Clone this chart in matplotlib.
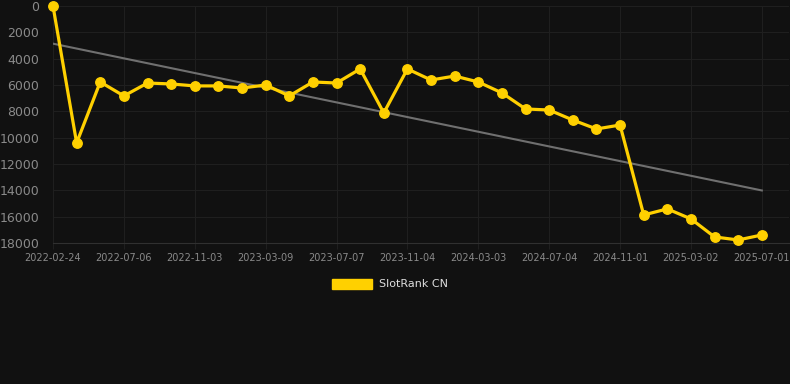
import matplotlib
matplotlib.use("Agg")
import matplotlib.pyplot as plt
from matplotlib.patches import Patch
import numpy as np

# rank values (lower on screen = worse rank)
ranks = [0, 10400, 5770, 6830, 5850, 5920, 6070, 6070, 6230, 6000,
         6830, 5770, 5850, 4780, 8120, 4780, 5620, 5320, 5770, 6600,
         7820, 7900, 8660, 9340, 9040, 15870, 15410, 16170, 17540, 17770,
         17390]
tick_labels = ["2022-02-24", "2022-07-06", "2022-11-03", "2023-03-09",
               "2023-07-07", "2023-11-04", "2024-03-03", "2024-07-04",
               "2024-11-01", "2025-03-02", "2025-07-01"]
series_name = "SlotRank CN"

BG = "#111111"
YELLOW = "#ffd000"
GRID = "#1f1f1f"
TXT = "#8a8a8a"

x = np.arange(len(ranks))
y = np.array(ranks)

fig = plt.figure(figsize=(7.9, 3.84), dpi=100, facecolor=BG)
ax = fig.add_axes([53/790, (384-243)/384, (789-53)/790, (243-6)/384])
ax.set_facecolor(BG)

# trend line (least squares fit)
k, b = np.polyfit(x, y, 1)
ax.plot(x, k*x + b, color="#707070", lw=1.5, zorder=2)

ax.plot(x, y, color=YELLOW, lw=2.3, marker="o", ms=6.8, zorder=3, clip_on=False)

ax.set_ylim(18000, 0)
ax.set_xlim(0, 31.15)
ax.set_yticks(range(0, 18001, 2000))
ax.set_xticks(x[::3])
ax.set_xticklabels(tick_labels)

ax.grid(True, color=GRID, lw=0.8)
ax.tick_params(axis="y", colors=TXT, labelsize=9, length=0, pad=10)
ax.tick_params(axis="x", colors=TXT, labelsize=7, length=4, pad=3, color=GRID)
for s in ["top", "right", "left"]:
    ax.spines[s].set_visible(False)
ax.spines["bottom"].set_color("#303030")

leg = fig.legend(handles=[Patch(facecolor=YELLOW, edgecolor=YELLOW)],
                 labels=[series_name], loc="center", bbox_to_anchor=(0.494, 1 - 284/384),
                 frameon=False, handlelength=3.6, handleheight=1.0, handletextpad=0.6,
                 fontsize=8, labelcolor="#dddddd")

fig.savefig("out.png", facecolor=BG)
